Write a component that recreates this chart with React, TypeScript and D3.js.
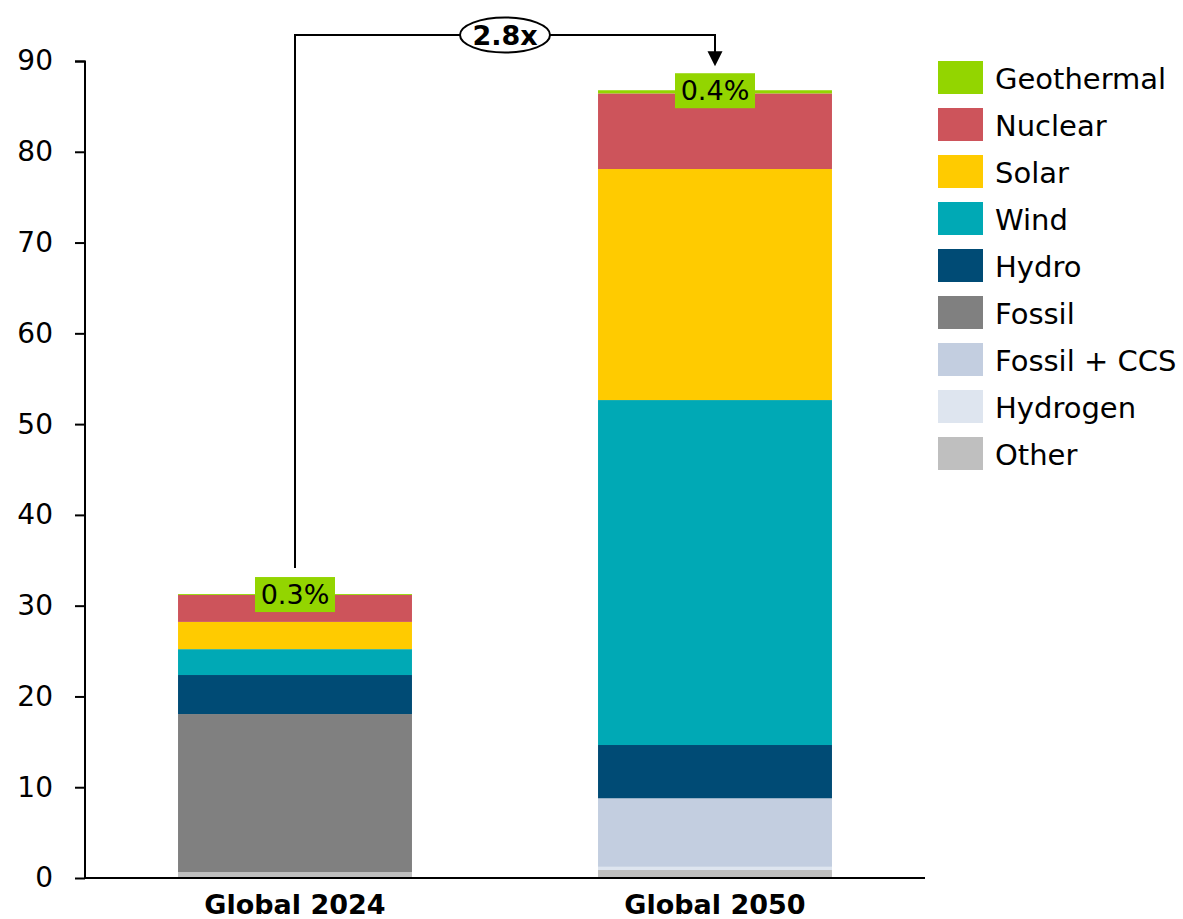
import { axisLeft, scaleBand, scaleLinear, select, stack } from "d3";
import { useEffect, useRef } from "react";

// data (units as on the y axis)
const categories = ["Global 2024", "Global 2050"];
const seriesNames = [
    "Other",
    "Hydrogen",
    "Fossil + CCS",
    "Fossil",
    "Hydro",
    "Wind",
    "Solar",
    "Nuclear",
    "Geothermal",
];
const other = [0.66, 0.88];
const hydrogen = [0, 0.35];
const fossilCcs = [0, 7.55];
const fossil = [17.4, 0];
const hydro = [4.3, 5.87];
const wind = [2.85, 38.0];
const solar = [3.0, 25.45];
const nuclear = [2.97, 8.33];
const geothermal = [0.1, 0.35];
const geoShareLabels = ["0.3%", "0.4%"];
const growthLabel = "2.8x";
const yTicks = [0, 10, 20, 30, 40, 50, 60, 70, 80, 90];

const colors: Record<string, string> = {
    Geothermal: "#93d500",
    Nuclear: "#cd545b",
    Solar: "#ffcb00",
    Wind: "#00a9b5",
    Hydro: "#004b75",
    Fossil: "#808080",
    "Fossil + CCS": "#c3cee0",
    Hydrogen: "#dee5ef",
    Other: "#bfbfbf",
};

const FONT = "'DejaVu Sans', sans-serif";

function App() {
    const svgRef = useRef<SVGSVGElement>(null);

    useEffect(() => {
        const svg: any = select(svgRef.current);
        svg.selectAll("*").remove();

        const rows = categories.map((c, i) => ({
            cat: c,
            Other: other[i],
            Hydrogen: hydrogen[i],
            "Fossil + CCS": fossilCcs[i],
            Fossil: fossil[i],
            Hydro: hydro[i],
            Wind: wind[i],
            Solar: solar[i],
            Nuclear: nuclear[i],
            Geothermal: geothermal[i],
        }));

        const x = scaleBand()
            .domain(categories)
            .range([85, 925])
            .paddingInner(0.443)
            .paddingOuter(0.2215);
        const y = scaleLinear().domain([0, 90]).range([878, 61]);

        const layers = stack<any>().keys(seriesNames)(rows);

        // bars
        svg.append("g")
            .selectAll("g")
            .data(layers)
            .enter()
            .append("g")
            .attr("fill", (d: any) => colors[d.key])
            .selectAll("rect")
            .data((d: any) => d)
            .enter()
            .append("rect")
            .attr("x", (d: any) => x(d.data.cat))
            .attr("width", x.bandwidth())
            .attr("y", (d: any) => y(d[1]))
            .attr("height", (d: any) => y(d[0]) - y(d[1]));

        // y axis
        const yAxis = axisLeft(y).tickValues(yTicks).tickSize(10).tickPadding(22);
        const ya = svg.append("g").attr("transform", "translate(85,0)").call(yAxis);
        ya.select(".domain").attr("stroke", "#000").attr("stroke-width", 2).attr("d", "M-10,61.5H0V878");
        ya.selectAll(".tick line").attr("stroke", "#000").attr("stroke-width", 2);
        ya.selectAll(".tick text")
            .attr("font-family", FONT)
            .attr("font-size", 28)
            .attr("fill", "#000");

        // x axis line
        svg.append("line")
            .attr("x1", 85)
            .attr("x2", 925)
            .attr("y1", y(0))
            .attr("y2", y(0))
            .attr("stroke", "#000")
            .attr("stroke-width", 2);

        // category labels
        svg.append("g")
            .selectAll("text")
            .data(categories)
            .enter()
            .append("text")
            .attr("x", (d: string) => x(d)! + x.bandwidth() / 2)
            .attr("y", 914)
            .attr("text-anchor", "middle")
            .attr("font-family", FONT)
            .attr("font-weight", "bold")
            .attr("font-size", 27)
            .text((d: string) => d);

        // geothermal share labels on top of stack
        const top = layers[layers.length - 1];
        top.forEach((d: any, i: number) => {
            const cx = x(d.data.cat)! + x.bandwidth() / 2;
            const cy = y(d[1]);
            svg.append("rect")
                .attr("x", cx - 40)
                .attr("y", cy - 17)
                .attr("width", 80)
                .attr("height", 35)
                .attr("fill", colors.Geothermal);
            svg.append("text")
                .attr("x", cx)
                .attr("y", cy + 10)
                .attr("text-anchor", "middle")
                .attr("font-family", FONT)
                .attr("font-size", 27)
                .text(geoShareLabels[i]);
        });

        // growth connector
        const x1 = x(categories[0])! + x.bandwidth() / 2;
        const x2 = x(categories[1])! + x.bandwidth() / 2;
        const top1 = y(top[0][1]) - 26;
        const top2 = y(top[1][1]) - 24;
        const lineY = 35;
        svg.append("path")
            .attr("d", `M${x1},${top1}V${lineY}H${x2}V${top2 - 14}`)
            .attr("fill", "none")
            .attr("stroke", "#000")
            .attr("stroke-width", 2);
        svg.append("path")
            .attr("d", `M${x2 - 7.5},${top2 - 15}L${x2 + 7.5},${top2 - 15}L${x2},${top2}Z`)
            .attr("fill", "#000");
        const mid = (x1 + x2) / 2;
        svg.append("ellipse")
            .attr("cx", mid)
            .attr("cy", lineY)
            .attr("rx", 45)
            .attr("ry", 17.5)
            .attr("fill", "#fff")
            .attr("stroke", "#000")
            .attr("stroke-width", 2);
        svg.append("text")
            .attr("x", mid)
            .attr("y", lineY + 10)
            .attr("text-anchor", "middle")
            .attr("font-family", FONT)
            .attr("font-weight", "bold")
            .attr("font-size", 27)
            .text(growthLabel);

        // legend
        const legendOrder = [...seriesNames].reverse();
        const lg = svg.append("g");
        legendOrder.forEach((name, i) => {
            const ly = 61 + i * 47;
            lg.append("rect")
                .attr("x", 938)
                .attr("y", ly)
                .attr("width", 45)
                .attr("height", 33)
                .attr("fill", colors[name]);
            lg.append("text")
                .attr("x", 995)
                .attr("y", ly + 28)
                .attr("font-family", FONT)
                .attr("font-size", 29)
                .text(name);
        });
    }, []);

    return (
        <svg
            ref={svgRef}
            width={1183}
            height={919}
            style={{ display: "block", position: "absolute", left: 0, top: 0, background: "#fff" }}
        />
    );
}

export default App;
